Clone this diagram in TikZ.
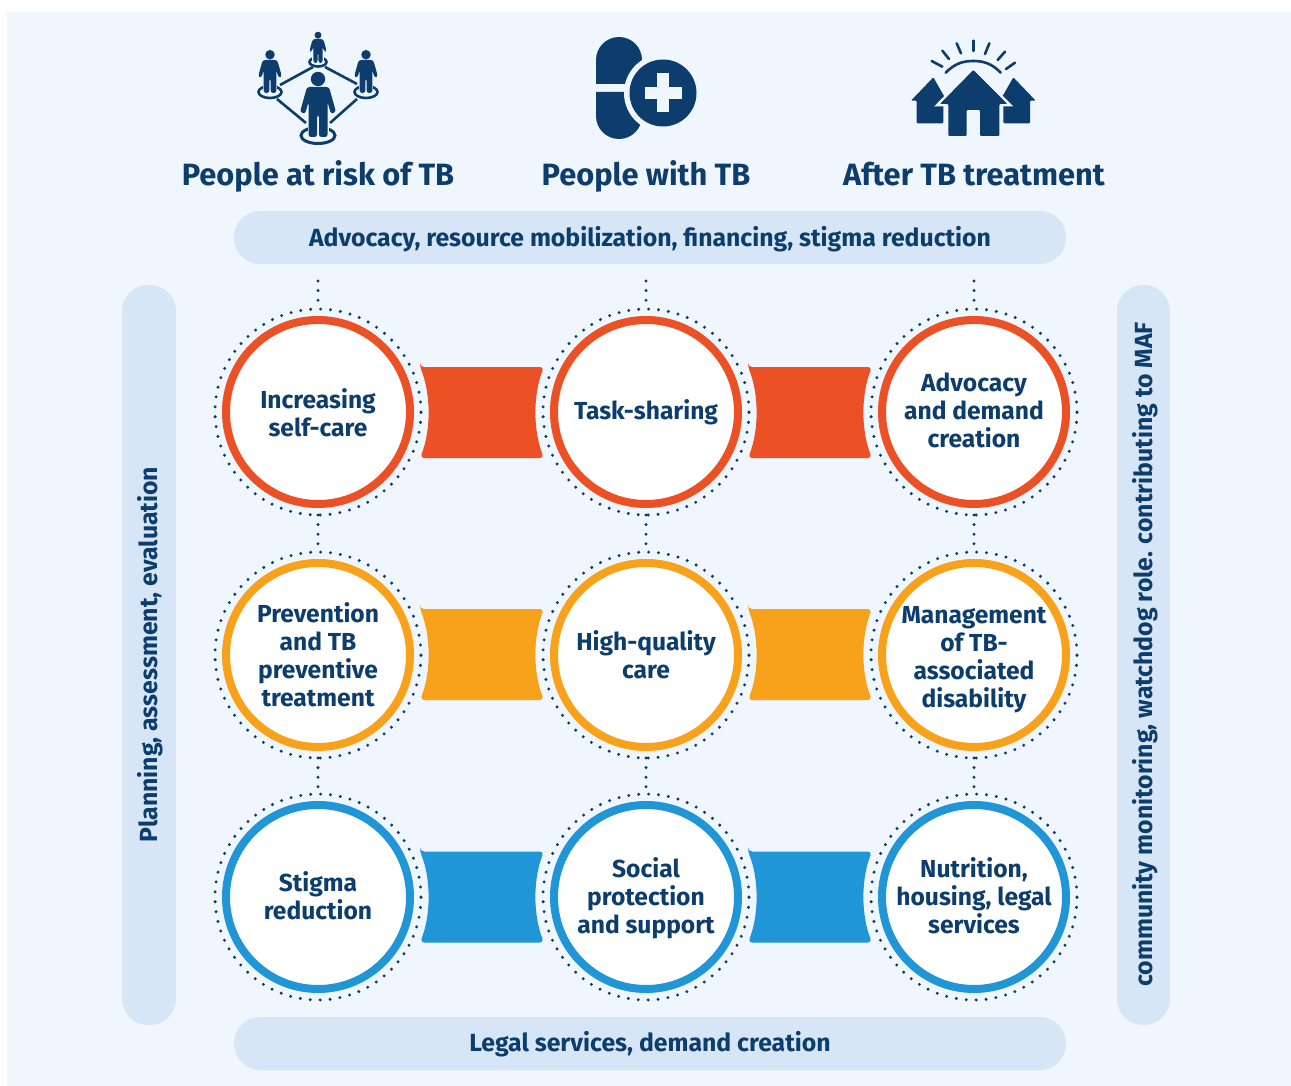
\documentclass[tikz,border=0pt]{standalone}
\usepackage{fontspec}
\setmainfont{Fira Sans}[BoldFont={Fira Sans Bold}]
\usetikzlibrary{calc}
\definecolor{navy}{HTML}{0C3D6C}
\definecolor{panelbg}{HTML}{F0F6FE}
\definecolor{pillbg}{HTML}{D6E6F6}
\definecolor{cred}{HTML}{EB5124}
\definecolor{corange}{HTML}{F8A11B}
\definecolor{cblue}{HTML}{2096D6}
\newcommand{\sth}{\rule{0pt}{18pt}}
\newcommand{\std}{\rule[-6pt]{0pt}{6pt}}
\newcommand{\personpath}{(-11,-50) -- (11,-50) -- (18,-25) -- (13,-23) -- (9.5,-35) -- (9.5,0) -- (1,0) -- (1,-22) -- (-1,-22) -- (-1,0) -- (-9.5,0) -- (-9.5,-35) -- (-13,-23) -- (-18,-25) -- cycle}
\tikzset{
  ring/.style={circle,draw=#1,line width=8pt,fill=white,minimum size=184pt,inner sep=0pt,outer sep=0pt},
  lbl/.style={text=navy,align=center,inner sep=0pt,font=\bfseries\fontsize{24.6}{28}\selectfont},
  halo/.style={circle,draw=navy,line width=3.3pt,line cap=round,dash pattern=on 0pt off 9.95pt,minimum size=206pt,inner sep=0pt,outer sep=0pt},
  dotline/.style={draw=navy,line width=3.3pt,line cap=round,dash pattern=on 0pt off 9.6pt},
  pill/.style={fill=pillbg,rounded corners=26pt},
  pilltext/.style={text=navy,anchor=base,inner sep=0pt,font=\bfseries\fontsize{24.8}{28}\selectfont},
  heading/.style={text=navy,anchor=base,inner sep=0pt,font=\bfseries\fontsize{30.8}{34}\selectfont},
  iconline/.style={draw=navy,line width=2.6pt},
  person/.pic={
    \fill[panelbg,draw=panelbg,line width=2pt] (-9.5,-20) rectangle (9.5,0);
    \fill[navy] (0,-58) circle (7.2);
    \fill[navy,rounded corners=2.5pt] \personpath;
  }
}
\newcommand{\band}[3]{%
  \fill[#3,rounded corners=4pt] (#1,#2-45.5) -- (#1+124,#2-45.5)
    .. controls (#1+113,#2-18) and (#1+113,#2+18) .. (#1+124,#2+45.5) -- (#1,#2+45.5)
    .. controls (#1+11,#2+18) and (#1+11,#2-18) .. cycle;}
\begin{document}
\begin{tikzpicture}[x=1pt,y=-1pt]
\useasboundingbox (0,0) rectangle (1291,1086);
\fill[panelbg] (7,12) rectangle (1291,1086);
% pills
\fill[pill] (234,211) rectangle (1066,264);
\fill[pill] (234,1017) rectangle (1066,1070);
\fill[pill] (122,285) rectangle (176,1025);
\fill[pill] (1117,285) rectangle (1170,1025);
\node[pilltext] (ptop) at (650,246.5) {Advocacy, resource mobilization, financing, stigma reduction};
\node[pilltext] (pbot) at (650,1051) {Legal services, demand creation};
\node[pilltext,rotate=90] (pleft) at (157,654.5) {Planning, assessment, evaluation};
\node[pilltext,rotate=90] (pright) at (1152,654.5) {community monitoring, watchdog role. contributing to MAF};
% headings
\node[heading] (h1) at (318,186) {People at risk of TB};
\node[heading] (h2) at (646,186) {People with TB};
\node[heading] (h3) at (974,186) {After TB treatment};
% bands
\band{420}{412.5}{cred}\band{748}{412.5}{cred}
\band{420}{654.5}{corange}\band{748}{654.5}{corange}
\band{420}{897}{cblue}\band{748}{897}{cblue}
% circles
\foreach \nm/\x in {a/318,b/646,c/974}{
  \foreach \rw/\y in {1/412,2/655,3/897}{
    \node[halo] (d\nm\rw) at (\x,\y) {};
  }
}
\coordinate (ta) at (318,281);
\coordinate (tb) at (646,281);
\coordinate (tc) at (974,281);
\foreach \nm in {a,b,c}{
  \draw[dotline] (t\nm) -- (d\nm1.north);
  \draw[dotline] (d\nm1.south) -- (d\nm2.north);
  \draw[dotline] (d\nm2.south) -- (d\nm3.north);
}
\node[ring=cred] (ra1) at (318,412) {};
\node[ring=cred] (rb1) at (646,412) {};
\node[ring=cred] (rc1) at (974,412) {};
\node[ring=corange] (ra2) at (318,655) {};
\node[ring=corange] (rb2) at (646,655) {};
\node[ring=corange] (rc2) at (974,655) {};
\node[ring=cblue] (ra3) at (318,897) {};
\node[ring=cblue] (rb3) at (646,897) {};
\node[ring=cblue] (rc3) at (974,897) {};
\node[lbl] (a1) at (318,415.5) {\sth Increasing\\self-care\std};
\node[lbl] (b1) at (646,413) {\sth Task-sharing\std};
\node[lbl] (c1) at (974,413.5) {\sth Advocacy\\and demand\\creation\std};
\node[lbl] (a2) at (318,657.5) {\sth Prevention\\and TB\\preventive\\treatment\std};
\node[lbl] (b2) at (646,657.5) {\sth High-quality\\care\std};
\node[lbl] (c2) at (974,659.5) {\sth Management\\of TB-\\associated\\disability\std};
\node[lbl] (a3) at (318,898.5) {\sth Stigma\\reduction\std};
\node[lbl] (b3) at (646,898.5) {\sth Social\\protection\\and support\std};
\node[lbl] (c3) at (974,898.5) {\sth Nutrition,\\housing, legal\\services\std};
% icon: people
\draw[iconline] (280,85) -- (313,67);
\draw[iconline] (325,67) -- (357,84);
\draw[iconline] (277,99) -- (306,123);
\draw[iconline] (357,99) -- (330,123);
\draw[navy,line width=2.6pt] (318,62) ellipse (8.5 and 4.5);
\draw[navy,line width=2.6pt] (270,92) ellipse (11.5 and 6);
\draw[navy,line width=2.6pt] (366,92) ellipse (11.5 and 6);
\draw[navy,line width=3pt] (318,135.5) ellipse (17 and 8);
\pic at (318,137) {person};
\pic[scale=.66] at (270,93) {person};
\pic[scale=.66] at (366,93) {person};
\pic[scale=.48] at (318,63) {person};
% icon: pill
\fill[navy] (596,84) -- (596,60) arc[start angle=180,end angle=360,radius=23] -- (642,84) -- cycle;
\fill[navy] (596,92) -- (642,92) -- (642,116) arc[start angle=0,end angle=180,radius=23] -- cycle;
\fill[panelbg] (663,93) circle (39);
\fill[navy] (663,93) circle (33.5);
\fill[panelbg] (645,87) rectangle (682,99);
\fill[panelbg] (657,73) rectangle (669,112);
% icon: houses
\begin{scope}[shift={(900,30)},scale=1/3]
\foreach \sx in {1,-1}{
 \begin{scope}[xshift=220pt,xscale=\sx]
 \fill[navy,rounded corners=1pt] (120,142) -- (187,212) -- (170,212) -- (170,280) -- (90,280) -- (90,212) -- (80,212) -- cycle;
 \end{scope}
}
\filldraw[draw=panelbg,line width=5pt,fill=panelbg] (220,120) -- (322,222) -- (298,222) -- (298,318) -- (145,318) -- (145,222) -- (120,222) -- cycle;
\fill[navy,rounded corners=1pt] (220,120) -- (322,222) -- (298,222) -- (298,318) -- (240,318) -- (240,240) -- (200,240) -- (200,318) -- (145,318) -- (145,222) -- (120,222) -- cycle;
\foreach \a/\b/\c/\d in {95/93/127/110,127/62/147/87,170/40/183/70,220/32/220/63,268/40/255/72,315/65/293/90,345/98/318/117}{
  \draw[navy,line width=2.6pt,line cap=round] (\a,\b) -- (\c,\d);
}
\draw[navy,line width=2.6pt,line cap=round] (137,128) .. controls (165,100) and (190,93) .. (220,93) .. controls (250,93) and (275,100) .. (302,128);
\end{scope}
\end{tikzpicture}
\end{document}
